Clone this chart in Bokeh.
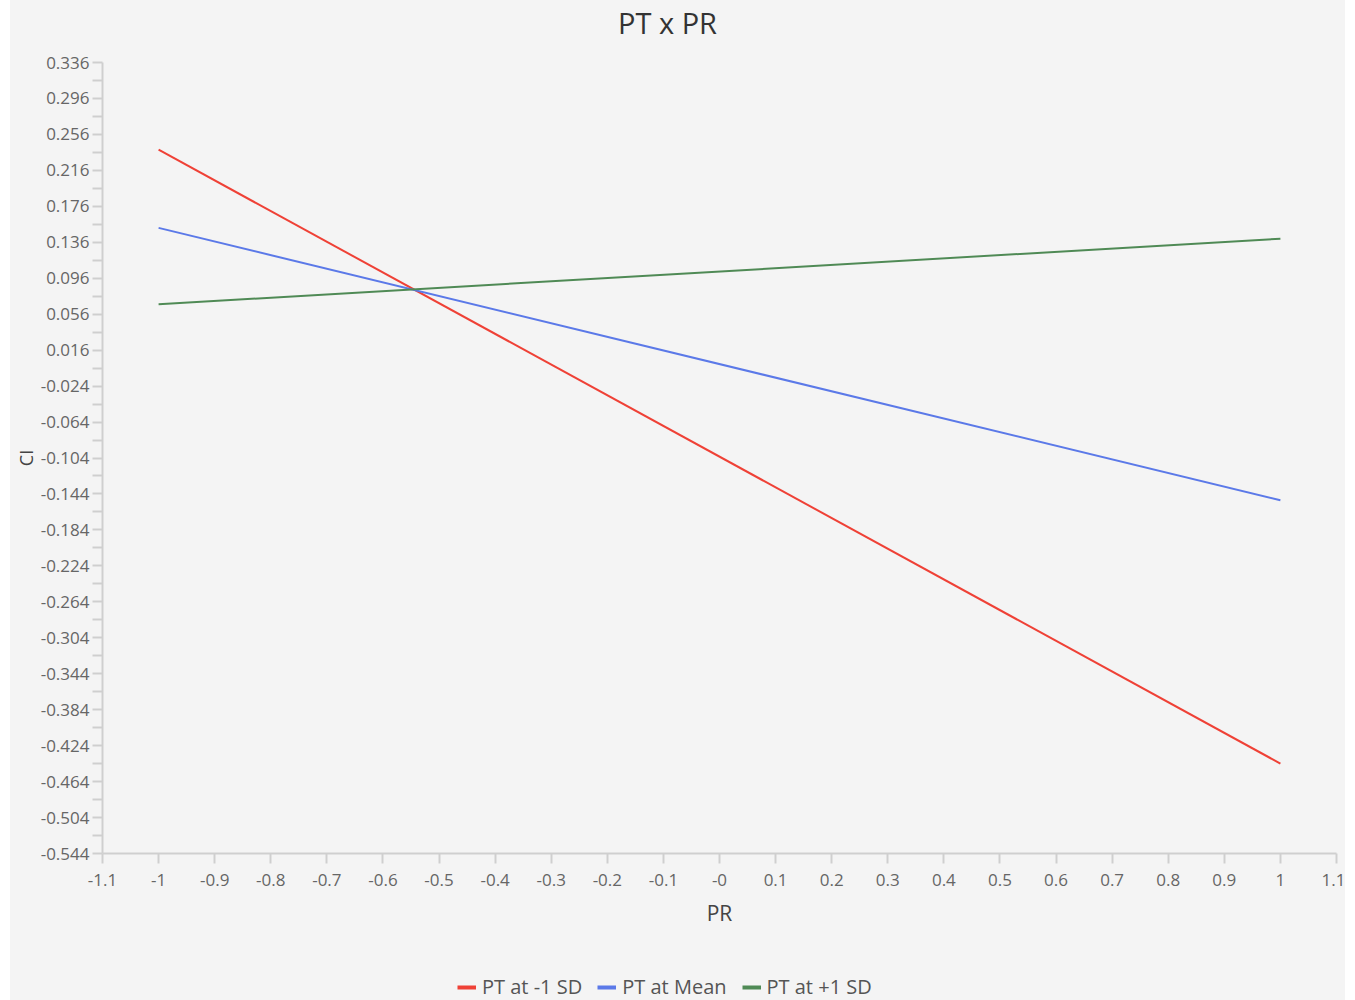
from bokeh.plotting import figure
from bokeh.models import (Range1d, FixedTicker, Legend, LegendItem, ColumnDataSource,
                          Label, Spacer)
from bokeh.layouts import column, row
from bokeh.embed import file_html
from bokeh.resources import INLINE

# ---- data ----
pr_values = [-1.0, 1.0]
ci_low_sd = [0.239, -0.444]      # PT at -1 SD
ci_mean = [0.152, -0.151]        # PT at Mean
ci_high_sd = [0.067, 0.140]      # PT at +1 SD
series_names = ["PT at -1 SD", "PT at Mean", "PT at +1 SD"]
series_colors = ["#ef4136", "#5b79e8", "#4f8a55"]
chart_title = "PT x PR"
x_label = "PR"
y_label = "CI"

x_ticks = [-1.1, -1.0, -0.9, -0.8, -0.7, -0.6, -0.5, -0.4, -0.3, -0.2, -0.1, 0.0,
           0.1, 0.2, 0.3, 0.4, 0.5, 0.6, 0.7, 0.8, 0.9, 1.0, 1.1]
x_tick_labels = ["-1.1", "-1", "-0.9", "-0.8", "-0.7", "-0.6", "-0.5", "-0.4", "-0.3", "-0.2",
                 "-0.1", "-0", "0.1", "0.2", "0.3", "0.4", "0.5", "0.6", "0.7", "0.8", "0.9",
                 "1", "1.1"]
y_tick_labels = ["0.336", "0.296", "0.256", "0.216", "0.176", "0.136", "0.096", "0.056", "0.016",
                 "-0.024", "-0.064", "-0.104", "-0.144", "-0.184", "-0.224", "-0.264", "-0.304",
                 "-0.344", "-0.384", "-0.424", "-0.464", "-0.504", "-0.544"]
y_ticks = [float(s) for s in y_tick_labels]
y_minor = [(a + b) / 2 for a, b in zip(y_ticks[:-1], y_ticks[1:])]

BG = "#f4f4f4"
AX = "#cfcfcf"
FONT = "Open Sans"
W = 1335


def blank_fig(h):
    f = figure(width=W, height=h, output_backend="svg", toolbar_location=None, title=None,
               x_range=Range1d(0, 1), y_range=Range1d(0, 1),
               x_axis_location=None, y_axis_location=None,
               background_fill_color=BG, border_fill_color=BG,
               min_border_left=0, min_border_right=0, min_border_top=0, min_border_bottom=0)
    f.outline_line_color = None
    f.grid.grid_line_color = None
    return f


# ---- title strip (frames of the stacked figures are aligned with the main plot's frame) ----
tfig = blank_fig(51)
tfig.add_layout(Label(x=565, y=29, x_units="screen", y_units="screen", text=chart_title,
                      text_align="center", text_baseline="alphabetic",
                      text_font=FONT, text_font_size="29px", text_color="#333333"))

# ---- main plot ----
p = figure(width=W, height=910, output_backend="svg", toolbar_location=None,
           x_range=Range1d(x_ticks[0], x_ticks[-1]),
           y_range=Range1d(y_ticks[-1], y_ticks[0]),
           background_fill_color=BG, border_fill_color=BG,
           min_border_left=92, min_border_right=9, min_border_top=11, min_border_bottom=108)
p.outline_line_color = None
p.grid.grid_line_color = None

src = ColumnDataSource(dict(x=pr_values, a=ci_low_sd, b=ci_mean, c=ci_high_sd))
for col, color in zip(["a", "b", "c"], series_colors):
    p.line("x", col, source=src, line_color=color, line_width=2)

p.xaxis.ticker = FixedTicker(ticks=x_ticks, minor_ticks=[])
p.xaxis.major_label_overrides = {t: l for t, l in zip(x_ticks, x_tick_labels)}
p.yaxis.ticker = FixedTicker(ticks=y_ticks, minor_ticks=y_minor)
p.yaxis.major_label_overrides = {t: l for t, l in zip(y_ticks, y_tick_labels)}

for ax in (p.xaxis, p.yaxis):
    ax.axis_line_color = AX
    ax.axis_line_width = 2
    ax.major_tick_line_color = AX
    ax.major_tick_line_width = 2
    ax.major_tick_in = 0
    ax.major_tick_out = 10
    ax.minor_tick_line_color = AX
    ax.minor_tick_line_width = 2
    ax.minor_tick_in = 0
    ax.minor_tick_out = 10
    ax.major_label_text_font = FONT
    ax.major_label_text_font_size = "17px"
    ax.major_label_text_color = "#666666"
    ax.axis_label_text_font = FONT
    ax.axis_label_text_font_style = "normal"
    ax.axis_label_text_color = "#444444"

p.xaxis.axis_label = x_label
p.xaxis.axis_label_text_font_size = "21px"
p.xaxis.major_label_standoff = 10
p.xaxis.axis_label_standoff = 10
p.yaxis.axis_label = y_label
p.yaxis.axis_label_text_font_size = "18px"
p.yaxis.major_label_standoff = 3
p.yaxis.axis_label_standoff = 0

# ---- legend strip ----
lfig = blank_fig(39)
lsrc = ColumnDataSource(dict(x=pr_values[:1], a=ci_low_sd[:1], b=ci_mean[:1], c=ci_high_sd[:1]))
items = []
for col, name, color in zip(["a", "b", "c"], series_names, series_colors):
    r = lfig.line("x", col, source=lsrc, line_color=color, line_width=4)
    items.append(LegendItem(label=name, renderers=[r]))
legend = Legend(items=items, orientation="horizontal", location=(355, 0),
                border_line_color=None, background_fill_alpha=0, padding=0, margin=0,
                spacing=15, glyph_width=19, glyph_height=18, label_height=18, label_standoff=6,
                label_text_font=FONT, label_text_font_size="20px", label_text_color="#555555")
lfig.add_layout(legend, "center")

stack = column(tfig, p, lfig, spacing=0, styles={"background-color": BG})
layout = row(Spacer(width=10), stack)
open("out.html", "w").write(file_html(layout, INLINE))
